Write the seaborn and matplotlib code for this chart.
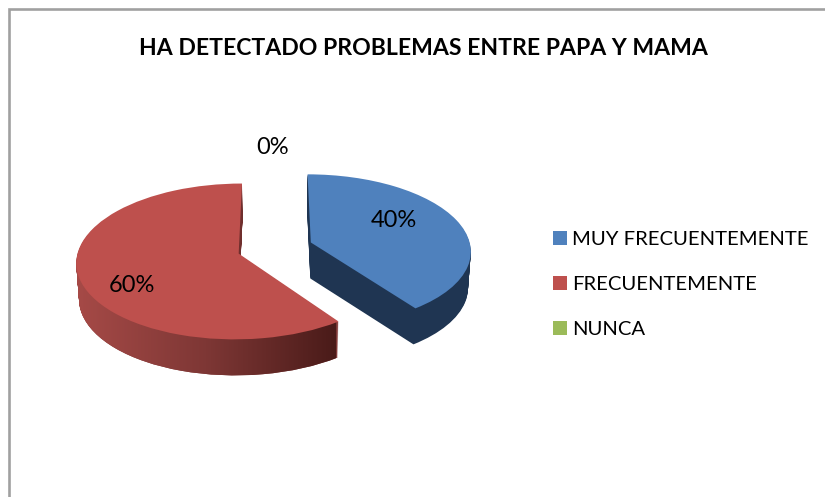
import numpy as np
import matplotlib
matplotlib.use("Agg")
import matplotlib.pyplot as plt
from matplotlib.colors import LinearSegmentedColormap
from matplotlib.patches import Patch
from matplotlib.path import Path
from matplotlib.transforms import Transform
import seaborn as sns

title = "HA DETECTADO PROBLEMAS ENTRE PAPA Y MAMA"
categories = ["MUY FRECUENTEMENTE", "FRECUENTEMENTE", "NUNCA"]
values = [40, 60, 0]
top_colors = ["#4F81BD", "#BE504D", "#9BBB59"]
side_colors = ["#1F3552", "#7E3735", "#68803A"]
label_xy = [(394, 220.5), (132, 285), (273, 147.5)]

sns.set_theme(style="white")
plt.rcParams["font.family"] = ["Lato", "DejaVu Sans"]

W, H = 825, 497
fig = plt.figure(figsize=(W / 100, H / 100), dpi=100, facecolor="white")
ax = fig.add_axes([0, 0, 1, 1])


class Perspective(Transform):
    """Tilted view of the unit-radius pie, into pixel-like data coordinates."""
    input_dims = output_dims = 2
    has_inverse = False
    is_separable = False

    def __init__(self, drop=0.0, full_drop=36.0):
        super().__init__()
        self.drop = drop
        self.full_drop = full_drop

    def transform_non_affine(self, xy):
        xy = np.asarray(xy, float)
        s = 1.0 / (1.0 + 0.10 * xy[:, 1])
        shrink = 1.0 - 0.014 * self.drop / self.full_drop
        return np.column_stack((275 + 160 * xy[:, 0] * s * shrink,
                                248 - 76 * xy[:, 1] * s + self.drop))

    def transform_path_non_affine(self, path):
        return Path(self.transform_non_affine(path.vertices), path.codes)


explode = [0.237, 0.237, 0.0]
DEPTH = 36
red_paths = []
for drop in range(DEPTH, 0, -1):
    wedges, _ = ax.pie(values, explode=explode, colors=side_colors, startangle=90,
                       counterclock=False, radius=1, frame=False)
    persp = Perspective(drop, DEPTH)
    for w in wedges:
        w.set_transform(persp + ax.transData)
        w.set_linewidth(0)
    verts = wedges[1].get_patch_transform().transform_path(wedges[1].get_path())
    red_paths.append(persp.transform_path_non_affine(verts))

# Shaded side of the red slice, fading from left to right
shade = LinearSegmentedColormap.from_list("shade", ["#A64A47", "#7E3735", "#4A1B19"])
im = ax.imshow(np.linspace(0, 1, 256)[None, :], cmap=shade, aspect="auto",
               extent=(76, 336, 380, 180), zorder=1.5)
im.set_clip_path(Path.make_compound_path(*red_paths), ax.transData)

tops, _ = ax.pie(values, explode=explode, colors=top_colors, startangle=90,
                 counterclock=False, radius=1, frame=False)
for w in tops:
    w.set_transform(Perspective(0, DEPTH) + ax.transData)
    w.set_linewidth(0)
    w.set_zorder(3)

ax.set_aspect("auto")
ax.set_xlim(0, W)
ax.set_ylim(H, 0)
ax.axis("off")

total = sum(values)
for v, (x, y) in zip(values, label_xy):
    ax.text(x, y, f"{v / total:.0%}", fontsize=17, color="black",
            ha="center", va="center", zorder=5)

ax.text(423.5, 48.5, title, fontsize=16.6, fontweight="bold", color="black",
        ha="center", va="center", zorder=5)

# Chart frame, running off the right and bottom of the crop
ax.plot([9, 9, W + 5], [H + 5, 9, 9], color="#A0A0A0", lw=1.9, zorder=4,
        solid_joinstyle="miter")

handles = [Patch(facecolor=c, edgecolor="none", label=l) for c, l in zip(top_colors, categories)]
ax.legend(handles=handles, loc="upper left", bbox_to_anchor=(553 / W, 1 - 231 / H),
          frameon=False, fontsize=14.6, labelcolor="black", handlelength=0.69, handleheight=0.69,
          handletextpad=0.25, labelspacing=1.37, borderpad=0, borderaxespad=0)

fig.savefig("out.png", dpi=100, facecolor="white")
